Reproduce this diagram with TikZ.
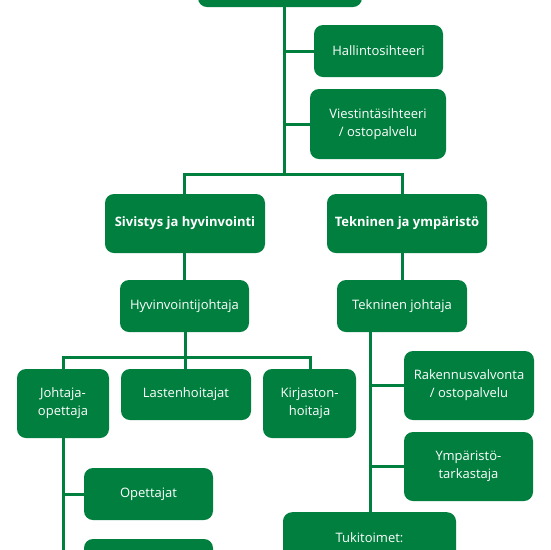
\documentclass[tikz,border=0pt]{standalone}
\usepackage{fontspec}
\setmainfont{Open Sans}
\usetikzlibrary{positioning, calc}
\definecolor{orggreen}{HTML}{007F3F}
\tikzset{
  orgbox/.style={fill=orggreen, rounded corners=9pt, text=white, align=center,
    font=\fontsize{13}{18}\selectfont, inner sep=0pt},
  headbox/.style={orgbox, font=\bfseries\fontsize{13}{18}\selectfont},
  link/.style={draw=orggreen, line width=3pt}
}
\begin{document}
\begin{tikzpicture}[x=1pt, y=-1pt]
    \useasboundingbox (0,0) rectangle (550,550);
    \clip (0,0) rectangle (550,550);
    % boxes
    \node[headbox, minimum width=164pt, minimum height=59pt] (top) at (280,-22.5) {};
    \node[orgbox, minimum width=129pt, minimum height=52pt] (hall) at (378.5,51) {Hallintosihteeri};
    \node[orgbox, minimum width=136pt, minimum height=70pt] (viest) at (378,124) {Viestintäsihteeri\\/ ostopalvelu};
    \node[headbox, minimum width=160pt, minimum height=59pt] (siv) at (185,223.5) {Sivistys ja hyvinvointi};
    \node[headbox, minimum width=160pt, minimum height=59pt] (tek) at (407,223.5) {Tekninen ja ympäristö};
    \node[orgbox, minimum width=129pt, minimum height=52pt] (hyv) at (184.5,306) {Hyvinvointijohtaja};
    \node[orgbox, minimum width=130pt, minimum height=52pt] (tekj) at (402,306) {Tekninen johtaja};
    \node[orgbox, minimum width=92pt, minimum height=69pt] (joht) at (63,403.5) {Johtaja-\\opettaja};
    \node[orgbox, minimum width=130pt, minimum height=51pt] (last) at (186,394.5) {Lastenhoitajat};
    \node[orgbox, minimum width=93pt, minimum height=69pt] (kirj) at (309.5,403.5) {Kirjaston-\\hoitaja};
    \node[orgbox, minimum width=130pt, minimum height=69pt] (rak) at (469,385.5) {Rakennusvalvonta\\/ ostopalvelu};
    \node[orgbox, minimum width=129pt, minimum height=69pt] (ymp) at (468.5,466.5) {Ympäristö-\\tarkastaja};
    \node[orgbox, minimum width=129pt, minimum height=52pt] (ope) at (148.5,494) {Opettajat};
    \node[orgbox, minimum width=129pt, minimum height=52pt] (opeb) at (148.5,565) {};
    \node[orgbox, minimum width=173pt, anchor=north, inner ysep=4pt,
      text height=26pt, text depth=60pt] (tuki) at (369.5,512) {Tukitoimet:};
    % junctions
    \coordinate (j0) at (284,174);
    \coordinate (jl) at (184,174);
    \coordinate (jr) at (402,174);
    \coordinate (j1) at (185,357);
    \coordinate (jl1) at (63,357);
    \coordinate (jr1) at (310,357);
    \coordinate (jt) at (370,0);
    % connectors
    \draw[link] (top.south -| j0) -- (j0);
    \draw[link] (hall.west -| j0) -- (hall.west);
    \draw[link] (viest.west -| j0) -- (viest.west);
    \draw[link] (jl |- siv.north) -- (jl) -- (jr) -- (jr |- tek.north);
    \draw[link] (jl |- siv.south) -- (jl |- hyv.north);
    \draw[link] (jr |- tek.south) -- (jr |- tekj.north);
    \draw[link] (j1 |- hyv.south) -- (j1);
    \draw[link] (jl1 |- joht.north) -- (jl1) -- (jr1) -- (jr1 |- kirj.north);
    \draw[link] (j1) -- (j1 |- last.north);
    \draw[link] (joht.south) -- (joht.south |- opeb.west) -- (opeb.west);
    \draw[link] (ope.west -| joht.south) -- (ope.west);
    \draw[link] (jt |- tekj.south) -- (jt |- tuki.north);
    \draw[link] (rak.west -| jt) -- (rak.west);
    \draw[link] (ymp.west -| jt) -- (ymp.west);
\end{tikzpicture}
\end{document}
